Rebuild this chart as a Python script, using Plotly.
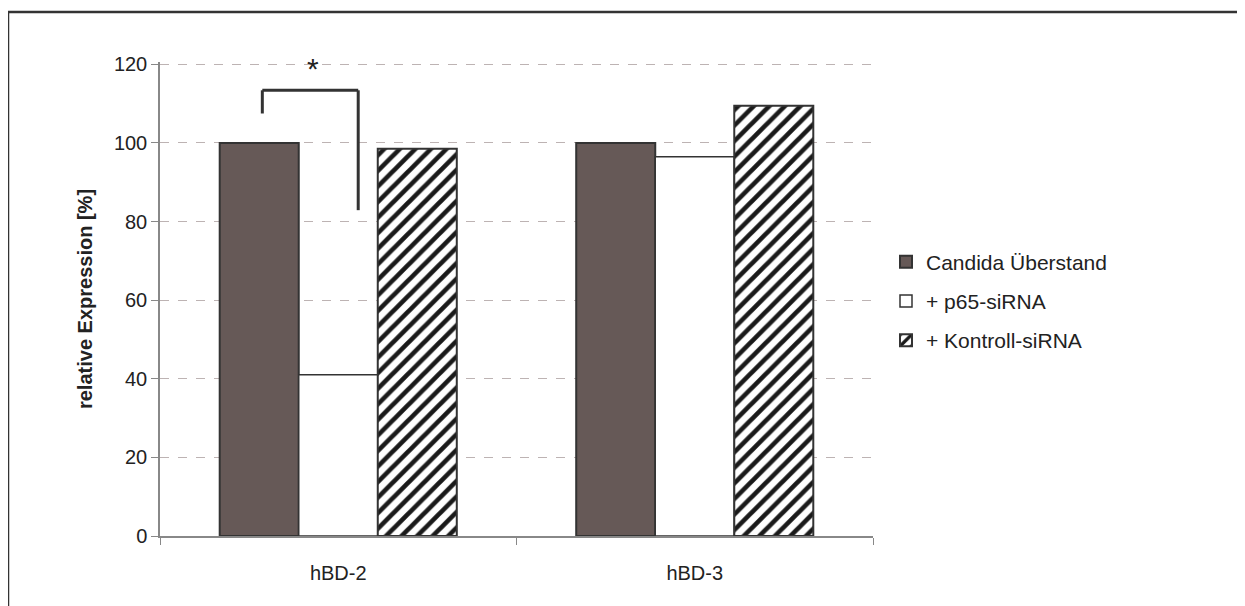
import plotly.graph_objects as go

categories = ["hBD-2", "hBD-3"]
series_names = ["Candida Überstand", "+ p65-siRNA", "+ Kontroll-siRNA"]
candida = [100.0, 100.0]
p65 = [41.0, 96.5]
kontroll = [98.5, 109.5]
y_ticks = [0, 20, 40, 60, 80, 100, 120]
y_max = 120.6

# significance bracket (data units: category index, percent)
br_left_x, br_right_x = -0.213, 0.056
br_left_bottom, br_top, br_right_bottom = 107.5, 113.4, 82.9
star_x, star_y = -0.07, 119.0

OFF = 8  # page body margin
W, H = 1245 - OFF, 606 - OFF
ML, MT = 160 - OFF, 64 - OFF - 2
pw, ph = 713, 474
MR, MB = W - ML - pw, H - MT - ph

dark = "#333333"
fig = go.Figure()
fig.add_trace(go.Bar(x=categories, y=candida, name=series_names[0],
                     marker=dict(color="#665957", line=dict(color=dark, width=2)),
                     legendgroup="a"))
fig.add_trace(go.Bar(x=categories, y=p65, name=series_names[1],
                     marker=dict(color="white", line=dict(color=dark, width=1.5)),
                     legendgroup="b"))
fig.add_trace(go.Bar(x=categories, y=kontroll, name=series_names[2],
                     marker=dict(color="white", line=dict(color=dark, width=2),
                                 pattern=dict(shape="/", fgcolor="#1a1a1a", bgcolor="white",
                                              fgopacity=1, fillmode="replace",
                                              size=11, solidity=0.42)),
                     legendgroup="c"))

font = dict(family="Liberation Sans, Arial, sans-serif", size=20, color="#222222")

fig.update_layout(
    width=W, height=H,
    margin=dict(l=ML, r=MR, t=MT, b=MB),
    paper_bgcolor="white", plot_bgcolor="white",
    barmode="group", bargap=0.335, bargroupgap=0,
    font=font,
    showlegend=True,
    legend=dict(x=(886 - 160) / pw, xanchor="left", y=(536 - 301) / ph, yanchor="middle",
                font=dict(size=21, color="#222222"), tracegroupgap=9,
                bgcolor="rgba(0,0,0,0)"),
    xaxis=dict(type="category", showline=True, linecolor="#888888", linewidth=1.5,
               ticks="outside", tickson="boundaries", ticklen=7, tickcolor="#888888",
               showgrid=False, zeroline=False, tickfont=font, ticklabelstandoff=18),
    yaxis=dict(range=[0, y_max], tickvals=y_ticks, showline=True, linecolor="#888888",
               linewidth=1.5, ticks="outside", ticklen=7, tickcolor="#888888",
               showgrid=True, gridcolor="#bdb3b3", griddash="dash", gridwidth=1,
               zeroline=False, tickfont=font,
               title=dict(text="<b>relative Expression [%]</b>", font=font, standoff=16)),
)

bl = dict(color=dark, width=3)
fig.add_shape(type="line", xref="x", yref="y", x0=br_left_x, x1=br_left_x,
              y0=br_left_bottom, y1=br_top, line=bl)
fig.add_shape(type="line", xref="x", yref="y", x0=br_left_x, x1=br_right_x,
              y0=br_top, y1=br_top, line=bl)
fig.add_shape(type="line", xref="x", yref="y", x0=br_right_x, x1=br_right_x,
              y0=br_top, y1=br_right_bottom, line=bl)
fig.add_annotation(x=star_x, y=star_y, xref="x", yref="y", text="*", showarrow=False,
                   font=dict(family="Liberation Sans, Arial", size=30, color="#222222"),
                   yanchor="middle")

# outer frame (left and top edges visible)
fx = (8 - 160) / pw
fy = (536 - 12) / ph
frame = dict(color=dark, width=2.5)
fig.add_shape(type="line", xref="paper", yref="paper", x0=fx, x1=fx, y0=-0.5, y1=fy, line=frame)
fig.add_shape(type="line", xref="paper", yref="paper", x0=fx, x1=2.0, y0=fy, y1=fy, line=frame)

fig.write_html("out.html")
